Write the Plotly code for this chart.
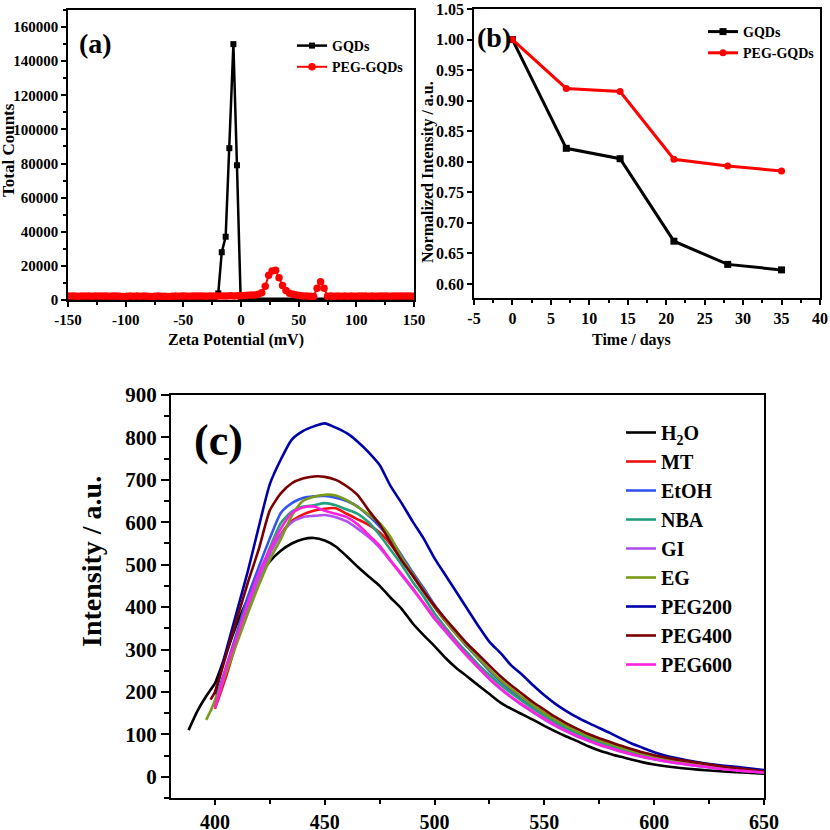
import plotly.graph_objects as go

# ---------------- data: panel (a) zeta potential ----------------
gqd_zeta_x = [-150, -23, -19.7, -16.7, -13.3, -10.1, -6.6, -3.5, -0.3, 150]
gqd_zeta_y = [800, 800, 3900, 28000, 37100, 89000, 150000, 79000, 800, 800]

peg_zeta_x = [-150, -147, -144, -141, -138, -135, -132, -129, -126, -123, -120, -117, -114, -111,
              -108, -105, -102, -99, -96, -93, -90, -87, -84, -81, -78, -75, -72, -69, -66, -63,
              -60, -57, -54, -51, -48, -45, -42, -39, -36, -33, -30, -27, -24, -21, -18, -15,
              -12, -9, -6, -3, 0, 3, 6, 9, 12, 15, 18, 21, 24, 27, 30, 33, 36, 39, 42, 45, 48,
              51, 54, 57, 60, 63, 66, 69, 72, 75, 78, 81, 84, 87, 90, 93, 96, 99, 102, 105, 108,
              111, 114, 117, 120, 123, 126, 129, 132, 135, 138, 141, 144, 147, 150]
peg_zeta_y = [2300, 2400, 2300, 2200, 2300, 2400, 2300, 2200, 2300, 2300, 2400, 2300, 2200, 2300,
              2300, 2200, 2100, 2200, 2300, 2200, 2300, 2200, 2300, 2200, 2100, 2200, 2300, 2200,
              2200, 2100, 2200, 2300, 2200, 2300, 2300, 2200, 2300, 2400, 2300, 2300, 2200, 2300,
              2400, 2300, 2400, 2300, 2400, 2500, 2400, 2500, 2500, 2700, 2800, 3000, 3000, 3300,
              4200, 8000, 14500, 17000, 17500, 13000, 8500, 5500, 4000, 3300, 2900, 2600, 2400,
              2300, 2200, 2100, 6900, 10700, 6900, 2200, 2300, 2200, 2300, 2200, 2300, 2200, 2300,
              2200, 2300, 2400, 2300, 2200, 2300, 2200, 2300, 2400, 2300, 2200, 2300, 2400, 2300,
              2300, 2400, 2300, 2200]
zeta_tickvals = [-150, -100, -50, 0, 50, 100, 150]
zeta_ticktext = ["-150", "-100", "-50", "0", "50", "100", "150"]

# ---------------- data: panel (b) stability ----------------
days = [0, 7, 14, 21, 28, 35]
gqd_norm = [1.000, 0.822, 0.805, 0.670, 0.632, 0.623]
peg_norm = [1.000, 0.920, 0.915, 0.804, 0.793, 0.785]
days_tickvals = [-5, 0, 5, 10, 15, 20, 25, 30, 35, 40]
days_ticktext = ["-5", "0", "5", "10", "15", "20", "25", "30", "35", "40"]

# ---------------- data: panel (c) PL spectra ----------------
wavelength = [388, 392, 396, 398,
              400, 405, 410, 415, 420, 425, 430, 435, 440, 445, 450, 455, 460, 465, 470, 475,
              480, 485, 490, 495, 500, 505, 510, 515, 520, 525, 530, 535, 540, 545, 550, 555,
              560, 565, 570, 575, 580, 585, 590, 595, 600,
              610, 620, 630, 640, 650]
N = None
h2o = [110, 155, 190, 205,
       220, 290, 360, 420, 470, 508, 533, 550, 560, 563, 557, 543, 520, 495, 472, 450,
       422, 396, 362, 334, 308, 280, 256, 236, 215, 195, 175, 160, 147, 134, 120, 107,
       95, 84, 72, 62, 54, 47, 40, 34, 29,
       22, 17, 13, 10, 7]
mt = [N, N, N, N,
      160, 235, 320, 400, 465, 528, 572, 603, 618, 627, 632, 633, 620, 607, 594, 576,
      548, 512, 474, 436, 400, 366, 335, 306, 280, 252, 226, 205, 185, 167, 150, 133,
      118, 105, 94, 84, 75, 67, 60, 53, 47,
      37, 29, 22, 17, 12]
etoh = [N, N, N, N,
        178, 258, 340, 425, 495, 562, 622, 645, 657, 661, 662, 658, 650, 637, 615, 590,
        560, 522, 482, 445, 405, 370, 338, 306, 278, 250, 225, 203, 183, 165, 148, 132,
        118, 105, 94, 84, 75, 67, 60, 54, 48,
        38, 29, 22, 17, 12]
nba = [N, N, N, N,
       170, 250, 330, 410, 475, 540, 598, 625, 637, 640, 645, 640, 630, 620, 600, 570,
       535, 500, 460, 425, 385, 352, 320, 292, 264, 240, 217, 197, 178, 160, 143, 128,
       114, 102, 91, 81, 72, 64, 57, 51, 45,
       36, 28, 21, 16, 11]
gi = [N, N, N, N,
      165, 245, 325, 400, 465, 525, 570, 600, 612, 615, 617, 612, 602, 585, 565, 540,
      508, 475, 442, 408, 372, 342, 312, 283, 256, 230, 207, 187, 168, 151, 135, 120,
      107, 95, 85, 75, 67, 59, 52, 46, 41,
      32, 25, 19, 14, 10]
eg = [N, N, 134, 155,
      180, 245, 315, 385, 452, 512, 560, 615, 650, 660, 665, 663, 652, 636, 618, 598,
      565, 517, 478, 440, 402, 368, 336, 308, 280, 253, 228, 207, 187, 168, 150, 134,
      120, 107, 96, 86, 77, 69, 61, 54, 48,
      38, 30, 23, 17, 12]
peg200 = [N, N, N, N,
          195, 295, 390, 485, 590, 690, 748, 795, 815, 826, 833, 823, 810, 790, 765, 735,
          685, 645, 602, 562, 515, 475, 435, 395, 355, 318, 292, 262, 240, 215, 192, 172,
          155, 140, 127, 115, 103, 90, 78, 68, 58,
          44, 34, 27, 22, 16]
peg400 = [N, N, N, 182,
          200, 285, 372, 458, 537, 628, 668, 692, 703, 708, 707, 700, 685, 664, 628, 595,
          552, 510, 475, 438, 403, 372, 342, 313, 288, 262, 237, 215, 195, 175, 158, 141,
          126, 113, 101, 91, 82, 73, 65, 57, 51,
          41, 33, 25, 19, 13]
peg600 = [N, N, N, N,
          162, 255, 330, 410, 480, 535, 585, 622, 635, 637, 627, 620, 612, 595, 570, 545,
          510, 478, 445, 410, 375, 345, 315, 285, 258, 232, 209, 188, 170, 153, 137, 122,
          108, 96, 86, 76, 68, 60, 53, 47, 42,
          33, 26, 19, 14, 10]

series_names = ["H<sub>2</sub>O", "MT", "EtOH", "NBA", "GI", "EG", "PEG200", "PEG400", "PEG600"]
series_values = [h2o, mt, etoh, nba, gi, eg, peg200, peg400, peg600]
series_colors = ["#000000", "#EE1111", "#3355EE", "#22A07E", "#B050EE",
                 "#7A9A18", "#0000A8", "#780000", "#FF22DD"]

# ---------------- styling helpers ----------------
W = 830
FONT = "Liberation Serif"


def px(x):
    return x / W


def py(y):
    return 1 - y / W


fig = go.Figure()

# panel (a)
fig.add_trace(go.Scatter(x=gqd_zeta_x, y=gqd_zeta_y, mode="lines+markers", name="GQDs",
                         line=dict(color="black", width=2.5),
                         marker=dict(symbol="square", size=6, color="black"),
                         xaxis="x", yaxis="y", legend="legend"))
fig.add_trace(go.Scatter(x=peg_zeta_x, y=peg_zeta_y, mode="lines+markers", name="PEG-GQDs",
                         line=dict(color="#FF0000", width=2),
                         marker=dict(symbol="circle", size=7.5, color="#FF0000"),
                         xaxis="x", yaxis="y", legend="legend"))

# panel (b)
fig.add_trace(go.Scatter(x=days, y=gqd_norm, mode="lines+markers", name="GQDs",
                         line=dict(color="black", width=3),
                         marker=dict(symbol="square", size=7, color="black"),
                         xaxis="x2", yaxis="y2", legend="legend2"))
fig.add_trace(go.Scatter(x=days, y=peg_norm, mode="lines+markers", name="PEG-GQDs",
                         line=dict(color="#FF0000", width=3),
                         marker=dict(symbol="circle", size=7, color="#FF0000"),
                         xaxis="x2", yaxis="y2", legend="legend2"))

# panel (c)
for name, vals, col in zip(series_names, series_values, series_colors):
    fig.add_trace(go.Scatter(x=wavelength, y=vals, mode="lines", name=name,
                             line=dict(color=col, width=2.6, shape="spline", smoothing=0.6),
                             xaxis="x3", yaxis="y3", legend="legend3"))


def axis_style(size, lw, tl):
    return dict(showline=True, linecolor="black", linewidth=lw, mirror=True,
                ticks="outside", ticklen=tl, tickwidth=lw, tickcolor="black",
                showgrid=False, zeroline=False, automargin=False,
                tickfont=dict(family=FONT, size=size, color="black", weight="bold"))


fig.update_layout(
    width=W, height=W,
    margin=dict(l=0, r=0, t=0, b=0, autoexpand=False),
    paper_bgcolor="white", plot_bgcolor="white",
    xaxis=dict(domain=[px(68), px(414)], range=[-150, 150], anchor="y",
               tickmode="array", tickvals=zeta_tickvals, ticktext=zeta_ticktext,
               minor=dict(ticks="outside", dtick=25, tick0=0, ticklen=3, tickwidth=1.5,
                          tickcolor="black"),
               **axis_style(15, 1.5, 5)),
    yaxis=dict(domain=[py(300), py(10)], range=[0, 170000], dtick=20000, tick0=0,
               tickformat="d", anchor="x",
               minor=dict(ticks="outside", dtick=10000, ticklen=3, tickwidth=1.5,
                          tickcolor="black"),
               **axis_style(15, 1.5, 5)),
    xaxis2=dict(domain=[px(474), px(820)], range=[-5, 40], anchor="y2",
                tickmode="array", tickvals=days_tickvals, ticktext=days_ticktext,
                minor=dict(ticks="outside", dtick=2.5, tick0=0, ticklen=3, tickwidth=1.5,
                           tickcolor="black"),
                **axis_style(16, 1.5, 5)),
    yaxis2=dict(domain=[py(298), py(9)], range=[0.577, 1.05], dtick=0.05, tick0=0.6,
                tickformat=".2f", anchor="x2",
                **axis_style(16, 1.5, 5)),
    xaxis3=dict(domain=[px(171), px(764)], range=[380, 650], dtick=50, tick0=400, anchor="y3",
                minor=dict(ticks="outside", dtick=25, ticklen=4, tickwidth=2, tickcolor="black"),
                **axis_style(20, 2, 5)),
    yaxis3=dict(domain=[py(798), py(395)], range=[-50, 900], dtick=100, tick0=0, anchor="x3",
                minor=dict(ticks="outside", dtick=50, ticklen=5, tickwidth=2, tickcolor="black"),
                **axis_style(21, 2, 8)),
    legend=dict(x=px(292), y=py(30), xanchor="left", yanchor="top",
                bgcolor="rgba(0,0,0,0)",
                font=dict(family=FONT, size=14, color="black", weight="bold")),
    legend2=dict(x=px(703), y=py(16), xanchor="left", yanchor="top",
                 bgcolor="rgba(0,0,0,0)",
                 font=dict(family=FONT, size=14, color="black", weight="bold")),
    legend3=dict(x=px(621), y=py(413), xanchor="left", yanchor="top",
                 bgcolor="rgba(0,0,0,0)",
                 font=dict(family=FONT, size=20, color="black", weight="bold")),
    showlegend=True,
)


def label(text, x, y, size, angle=0):
    fig.add_annotation(text=text, x=px(x), y=py(y), xref="paper", yref="paper",
                       showarrow=False, textangle=angle, xanchor="center", yanchor="middle",
                       font=dict(family=FONT, size=size, color="black", weight="bold"))


label("(a)", 95, 44, 28)
label("(b)", 494, 37, 28)
label("(c)", 218, 440, 44)
label("Total Counts", 8, 150, 17, -90)
label("Zeta Potential (mV)", 236, 340, 16)
label("Normalized Intensity / a.u.", 428, 172, 16, -90)
label("Time / days", 631, 340, 16)
label("Intensity / a.u.", 91, 562, 28, -90)

# remove the browser's default 8px body margin so the 830x830 figure fills the window
fig.write_html("out.html", config={"displayModeBar": False},
               post_script="document.body.style.margin='0px';")
